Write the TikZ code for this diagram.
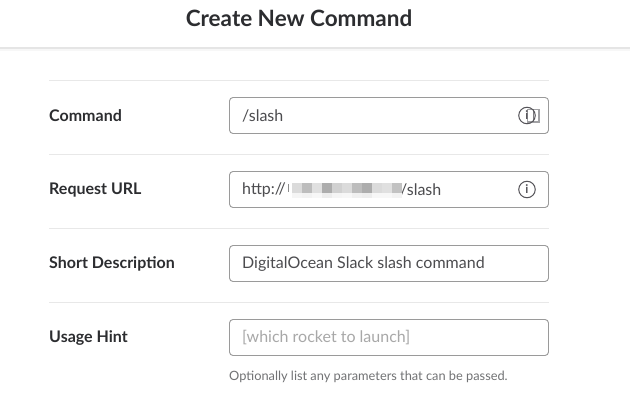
\documentclass[tikz,border=0pt]{standalone}
\usepackage{fontspec}
\setmainfont{Lato}
\definecolor{ink}{HTML}{2C2D30}
\definecolor{rulec}{HTML}{E8E8E8}
\definecolor{boxc}{HTML}{9A9A9A}
\definecolor{ph}{HTML}{A8A8A8}
\definecolor{hint}{HTML}{717274}
\definecolor{ico}{HTML}{555459}
\tikzset{
 lab/.style={anchor=west,inner sep=0pt,text=ink,font=\fontsize{16}{18}\selectfont\bfseries},
 val/.style={anchor=west,inner sep=0pt,text=ink!85!white,font=\fontsize{16}{18}\selectfont},
 field/.style={draw=boxc,line width=0.9pt,rounded corners=3.5pt},
 sep/.style={draw=rulec,line width=1pt},
 icon/.style={circle,draw=ico,line width=1pt,minimum size=16.5pt,inner sep=0pt,text=ico,font=\fontsize{12}{12}\selectfont\bfseries},
}
\begin{document}
\begin{tikzpicture}[x=1pt,y=-1pt]
\useasboundingbox (0,0) rectangle (630,403);
\fill[white] (0,0) rectangle (630,403);
% header shadow
\fill[black!3] (0,48) rectangle (630,51);
\fill[black!10] (0,47.5) rectangle (630,49);
\node[inner sep=0pt,text=ink,font=\fontsize{22.5}{24}\selectfont\bfseries] (title) at (299,18.5) {Create New Command};
% separators
\foreach \y in {80.5,154.5,228.5,302.5} {\draw[sep] (49,\y) -- (549,\y);}
% labels
\node[lab] (l1) at (49,116) {Command};
\node[lab] (l2) at (49,190) {Request URL};
\node[lab] (l3) at (49,264) {Short Description};
\node[lab] (l4) at (49,338) {Usage Hint};
% fields
\draw[field] (229.5,97.5) rectangle (548.5,133.5);
\draw[field] (229.5,171.5) rectangle (548.5,207.5);
\draw[field] (229.5,245.5) rectangle (548.5,281.5);
\draw[field] (229.5,319.5) rectangle (548.5,355.5);
% values
\node[val] (v1) at (242,116) {/slash};
\node[val] (v2a) at (242,190) {http://};
\node[val] (v2b) at (400,190) {/slash};
\node[val] (v3) at (242,264) {DigitalOcean Slack slash command};
\node[val,text=ph] (v4) at (242,338) {[which rocket to launch]};
\node[anchor=west,inner sep=0pt,text=hint,font=\fontsize{12.8}{14}\selectfont] (h) at (229,377) {Optionally list any parameters that can be passed.};
% blurred area
\fill[black!45] (288,184) rectangle +(1.2,8);
\foreach \x/\a/\b in {292/14/4,302/26/5,312/12/3,322/32/7,332/18/4,342/14/3,352/26/6,362/32/7,372/14/3,382/12/3,392/24/5}
 {\fill[black!\a] (\x,183) rectangle +(10.2,10); \fill[black!\b] (\x,193) rectangle +(10.2,5);}
% icons
\fill[ico!55!white] (526.5,109) rectangle (539.5,123);
\fill[white] (528,110.5) rectangle (538,121.5);
\draw[ico!75!white,line width=1pt] (533,109.5) -- (533,122);
\node[icon] (i1) at (527,115.5) {i};
\node[icon] (i2) at (527,189.5) {i};
\end{tikzpicture}
\end{document}
